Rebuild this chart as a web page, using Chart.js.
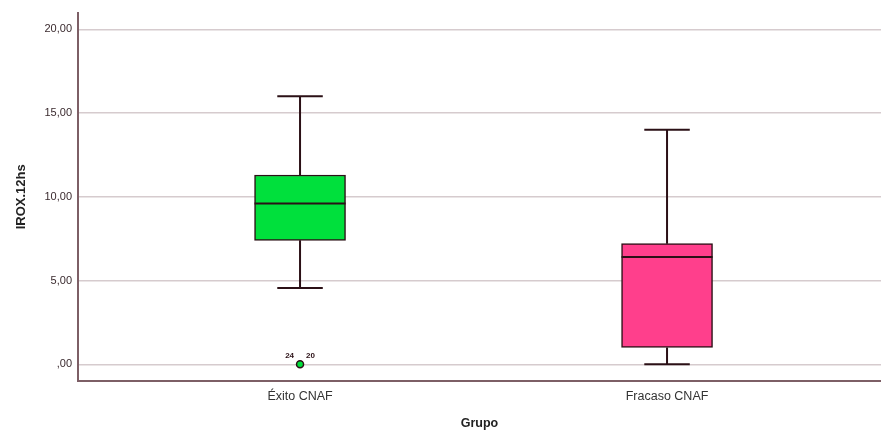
<!DOCTYPE html>
<html>
<head>
<meta charset="utf-8">
<script src="https://cdn.jsdelivr.net/npm/chart.js@4"></script>
<style>
  html, body { margin: 0; padding: 0; background: #fff; }
  #wrap { width: 881px; height: 433px; }
</style>
</head>
<body>
<div id="wrap"><canvas id="box"></canvas></div>
<script>
// --- Data ---
const groups = ["Éxito CNAF", "Fracaso CNAF"];
const groupPos = [1, 2];
const whiskerMin = [4.55, 0.0];
const q1 = [7.4, 1.0];
const median = [9.6, 6.4];
const q3 = [11.3, 7.2];
const whiskerMax = [16.0, 14.0];
const outlierGroup = [0];
const outlierValue = [0.0];
const outlierLabels = [["24", "20"]];
const yTicks = [0, 5, 10, 15, 20];

const dark = "#2b1016";
const fonts = "'Liberation Sans', Arial, sans-serif";

// --- Whiskers, caps, medians and outlier case numbers ---
const boxPlotExtras = {
  id: "boxPlotExtras",
  afterDatasetsDraw(chart) {
    const { ctx, scales: { x, y } } = chart;
    const meta = chart.getDatasetMeta(0);
    ctx.save();
    ctx.strokeStyle = dark;
    ctx.lineWidth = 2;
    groupPos.forEach((g, i) => {
      const bar = meta.data[i];
      const half = bar.width / 2;
      const cx = x.getPixelForValue(g);
      const cap = half / 2;
      ctx.beginPath();
      // upper whisker
      ctx.moveTo(cx, y.getPixelForValue(q3[i]));
      ctx.lineTo(cx, y.getPixelForValue(whiskerMax[i]));
      ctx.moveTo(cx - cap, y.getPixelForValue(whiskerMax[i]));
      ctx.lineTo(cx + cap, y.getPixelForValue(whiskerMax[i]));
      // lower whisker
      ctx.moveTo(cx, y.getPixelForValue(q1[i]));
      ctx.lineTo(cx, y.getPixelForValue(whiskerMin[i]));
      ctx.moveTo(cx - cap, y.getPixelForValue(whiskerMin[i]));
      ctx.lineTo(cx + cap, y.getPixelForValue(whiskerMin[i]));
      // median
      ctx.moveTo(cx - half, y.getPixelForValue(median[i]));
      ctx.lineTo(cx + half, y.getPixelForValue(median[i]));
      ctx.stroke();
    });
    // outlier labels
    ctx.fillStyle = dark;
    ctx.font = "bold 8px " + fonts;
    ctx.textBaseline = "bottom";
    outlierGroup.forEach((gi, k) => {
      const px = x.getPixelForValue(groupPos[gi]);
      const py = y.getPixelForValue(outlierValue[k]) - 4;
      ctx.textAlign = "right";
      ctx.fillText(outlierLabels[k][0], px - 6, py);
      ctx.textAlign = "left";
      ctx.fillText(outlierLabels[k][1], px + 6, py);
    });
    ctx.restore();
  }
};

new Chart(document.getElementById("box"), {
  data: {
    datasets: [
      {
        type: "bar",
        data: groupPos.map((g, i) => ({ x: g, y: [q1[i], q3[i]] })),
        backgroundColor: ["#00e03c", "#ff3f8c"],
        borderColor: dark,
        borderWidth: 1.5,
        borderSkipped: false,
        barThickness: 91,
        order: 2
      },
      {
        type: "scatter",
        data: outlierGroup.map((gi, k) => ({ x: groupPos[gi], y: outlierValue[k] })),
        backgroundColor: "#00e03c",
        borderColor: dark,
        borderWidth: 1.5,
        pointRadius: 3.5,
        order: 1
      }
    ]
  },
  options: {
    responsive: true,
    maintainAspectRatio: false,
    animation: false,
    layout: { autoPadding: false, padding: { top: 12, right: 0, left: 0, bottom: 0 } },
    plugins: { legend: { display: false }, tooltip: { enabled: false } },
    scales: {
      x: {
        type: "linear",
        offset: false,
        min: 0.395,
        max: 2.583,
        afterBuildTicks: s => { s.ticks = groupPos.map(v => ({ value: v })); },
        afterFit: s => { s.height = 52; },
        grid: { display: false },
        border: { color: "#7d5f66", width: 2 },
        ticks: {
          padding: 0,
          color: "#333",
          font: { family: fonts, size: 12.5 },
          callback: v => groups[groupPos.indexOf(v)] || ""
        },
        title: {
          display: true,
          text: "Grupo",
          color: "#222",
          font: { family: fonts, size: 12.5, weight: "bold" },
          padding: { top: 8, bottom: 2 }
        }
      },
      y: {
        min: -1,
        max: 21,
        afterBuildTicks: s => { s.ticks = yTicks.map(v => ({ value: v })); },
        afterFit: s => { s.width = 78; },
        grid: { color: "#d6cbce", lineWidth: 1.5, drawTicks: false },
        border: { color: "#7d5f66", width: 2 },
        ticks: {
          padding: 6,
          color: "#3a2a2e",
          font: { family: fonts, size: 11 },
          callback: v => (v === 0 ? ",00" : v.toFixed(2).replace(".", ","))
        },
        title: {
          display: true,
          text: "IROX.12hs",
          color: "#222",
          font: { family: fonts, size: 13, weight: "bold" },
          padding: { top: 14, bottom: 0 }
        }
      }
    }
  },
  plugins: [boxPlotExtras]
});
</script>
</body>
</html>
